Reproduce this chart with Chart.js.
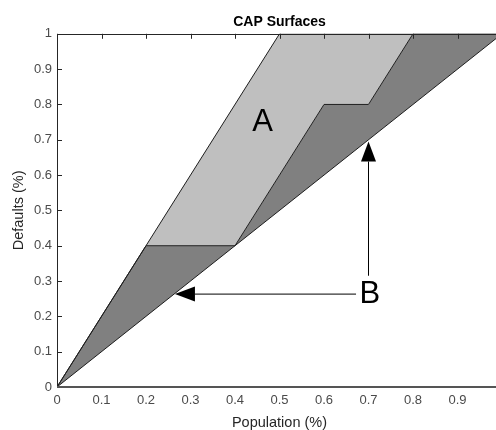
<!DOCTYPE html>
<html>
<head>
<meta charset="utf-8">
<script src="https://cdn.jsdelivr.net/npm/chart.js@4.4.1/dist/chart.umd.min.js"></script>
<style>
  html, body { margin: 0; padding: 0; overflow: hidden; background: #fff; }
  #wrap { width: 512px; height: 430px; }
</style>
</head>
<body>
<div id="wrap"><canvas id="capChart" width="512" height="430"></canvas></div>
<script>
// curves (population share -> share of defaults)
const xPerfect = [0, 0.5, 1];
const yPerfect = [0, 1, 1];
const xModel = [0, 0.2, 0.4, 0.6, 0.7, 0.8, 1];
const yModel = [0, 0.4, 0.4, 0.8, 0.8, 1, 1];
const xRandom = [0, 1];
const yRandom = [0, 1];

// axis ticks
const xTicks = [0, 0.1, 0.2, 0.3, 0.4, 0.5, 0.6, 0.7, 0.8, 0.9, 1];
const yTicks = [0, 0.1, 0.2, 0.3, 0.4, 0.5, 0.6, 0.7, 0.8, 0.9, 1];

// annotations, in data units
const noteText = ["A", "B"];
const noteX = [0.462, 0.703];
const noteY = [0.748, 0.261];
const arrowFrom = [[0.672, 0.263], [0.7, 0.315]];
const arrowTo = [[0.265, 0.263], [0.7, 0.695]];

const FONT = "'Liberation Sans', Arial, Helvetica, sans-serif";
const AXIS = "#262626";

const toPoints = (xs, ys) => xs.map((x, i) => ({ x: x, y: ys[i] }));

// MATLAB style box with inward ticks on top and left
const frame = {
  id: "frame",
  afterDatasetsDraw(chart) {
    const { ctx, chartArea: a, scales } = chart;
    ctx.save();
    ctx.strokeStyle = AXIS;
    ctx.lineWidth = 1;
    ctx.beginPath();
    ctx.moveTo(Math.round(a.left) + 0.5, a.bottom);
    ctx.lineTo(Math.round(a.left) + 0.5, Math.round(a.top) + 0.5);
    ctx.lineTo(a.right, Math.round(a.top) + 0.5);
    ctx.lineTo(a.right, a.bottom);
    scales.y.ticks.forEach(t => {
      const py = Math.round(scales.y.getPixelForValue(t.value)) + 0.5;
      ctx.moveTo(a.left, py);
      ctx.lineTo(a.left + 5, py);
    });
    scales.x.ticks.forEach(t => {
      const px = Math.round(scales.x.getPixelForValue(t.value)) + 0.5;
      ctx.moveTo(px, a.top);
      ctx.lineTo(px, a.top + 5);
    });
    ctx.stroke();
    ctx.strokeStyle = "#555";
    ctx.lineWidth = 2;
    ctx.beginPath();
    ctx.moveTo(a.left, Math.round(a.bottom));
    ctx.lineTo(a.right, Math.round(a.bottom));
    ctx.stroke();
    ctx.restore();
  }
};

const notes = {
  id: "notes",
  afterDraw(chart) {
    const { ctx, scales: { x, y } } = chart;
    ctx.save();
    ctx.fillStyle = "#000";
    ctx.strokeStyle = "#000";
    ctx.lineWidth = 1;
    arrowFrom.forEach((f, i) => {
      const x0 = x.getPixelForValue(f[0]), y0 = y.getPixelForValue(f[1]);
      const x1 = x.getPixelForValue(arrowTo[i][0]), y1 = y.getPixelForValue(arrowTo[i][1]);
      const ang = Math.atan2(y1 - y0, x1 - x0);
      const len = 20, half = 7.5;
      const bx = x1 - len * Math.cos(ang), by = y1 - len * Math.sin(ang);
      ctx.beginPath();
      ctx.moveTo(x0, y0);
      ctx.lineTo(bx, by);
      ctx.stroke();
      ctx.beginPath();
      ctx.moveTo(x1, y1);
      ctx.lineTo(bx + half * Math.sin(ang), by - half * Math.cos(ang));
      ctx.lineTo(bx - half * Math.sin(ang), by + half * Math.cos(ang));
      ctx.closePath();
      ctx.fill();
    });
    ctx.font = "31px " + FONT;
    ctx.textAlign = "center";
    ctx.textBaseline = "middle";
    noteText.forEach((t, i) => {
      ctx.fillText(t, x.getPixelForValue(noteX[i]), y.getPixelForValue(noteY[i]));
    });
    ctx.restore();
  }
};

const lineStyle = { borderColor: "#1e1e1e", borderWidth: 1, pointRadius: 0, tension: 0 };

new Chart(document.getElementById("capChart"), {
  type: "line",
  data: {
    datasets: [
      Object.assign({ label: "Perfect", data: toPoints(xPerfect, yPerfect), fill: "+1", backgroundColor: "#bfbfbf" }, lineStyle),
      Object.assign({ label: "Model", data: toPoints(xModel, yModel), fill: "+1", backgroundColor: "#808080" }, lineStyle),
      Object.assign({ label: "Random", data: toPoints(xRandom, yRandom), fill: false }, lineStyle)
    ]
  },
  options: {
    responsive: false,
    animation: false,
    events: [],
    layout: { padding: { left: 0, right: 10, top: 0, bottom: 0 } },
    plugins: {
      legend: { display: false },
      tooltip: { enabled: false },
      filler: { drawTime: "beforeDatasetsDraw" },
      title: {
        display: true,
        text: "CAP Surfaces",
        color: "#000",
        fullSize: false,
        font: { family: FONT, size: 14, weight: "bold", lineHeight: 1.2 },
        padding: { top: 14, bottom: 3 }
      }
    },
    scales: {
      x: {
        type: "linear",
        min: 0,
        max: 1,
        afterFit(s) { s.height = 43; },
        afterBuildTicks(s) { s.ticks = xTicks.map(v => ({ value: v })); },
        grid: { display: false, drawTicks: false },
        border: { display: false },
        ticks: {
          padding: 6,
          color: "#4a4a4a",
          autoSkip: false,
          maxRotation: 0,
          font: { family: FONT, size: 13 },
          callback: v => String(v)
        },
        title: {
          display: true,
          text: "Population (%)",
          color: AXIS,
          font: { family: FONT, size: 14.5, lineHeight: 1 },
          padding: { top: 0, bottom: 0 }
        }
      },
      y: {
        type: "linear",
        min: 0,
        max: 1,
        afterFit(s) { s.width = 57; },
        afterBuildTicks(s) { s.ticks = yTicks.map(v => ({ value: v })); },
        grid: { display: false, drawTicks: false },
        border: { display: false },
        ticks: {
          padding: 5,
          color: "#4a4a4a",
          autoSkip: false,
          font: { family: FONT, size: 13 },
          callback: v => String(v)
        },
        title: {
          display: true,
          text: "Defaults (%)",
          color: AXIS,
          font: { family: FONT, size: 14.5, lineHeight: 1 },
          padding: { top: 11.5, bottom: 0 }
        }
      }
    }
  },
  plugins: [frame, notes]
});
</script>
</body>
</html>
